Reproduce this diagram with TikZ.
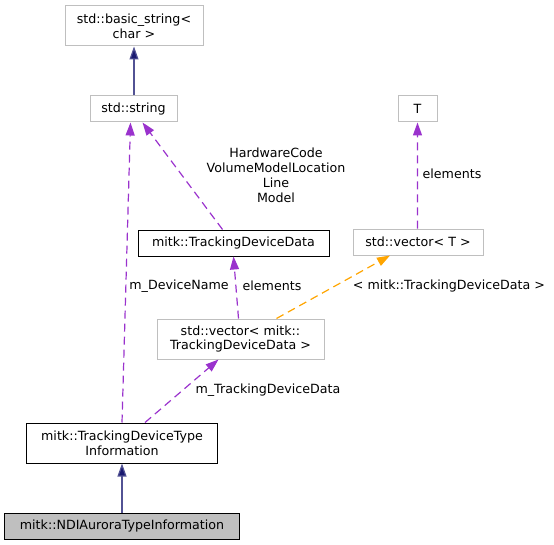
\documentclass[tikz,border=0pt]{standalone}
\usepackage{fontspec}
\setmainfont{DejaVu Sans}
\usetikzlibrary{arrows.meta}
\definecolor{boxgray}{HTML}{BFBFBF}
\definecolor{edgepurple}{HTML}{9A32CD}
\definecolor{edgenavy}{HTML}{191970}
\definecolor{edgeorange}{HTML}{FFA500}
\tikzset{
  every node/.style={font=\fontsize{12.7}{15}\selectfont, inner sep=0pt},
  graybox/.style={draw=boxgray, line width=1bp, fill=white, align=center},
  blackbox/.style={draw=black, line width=1bp, fill=white, align=center},
  curbox/.style={draw=black, line width=1bp, fill=boxgray, align=center},
  inherit/.style={draw=edgenavy!75!white, line width=1.2bp, -{Triangle[length=13bp,width=9bp,fill=edgenavy]}},
  usage/.style={draw=edgepurple, line width=1.2bp, dash pattern=on 8bp off 5bp, -{Triangle[length=13bp,width=9bp,fill=edgepurple]}},
  tmpl/.style={draw=edgeorange, line width=1.2bp, dash pattern=on 8bp off 5bp, -{Triangle[length=13bp,width=9bp,fill=edgeorange]}},
  lbl/.style={align=center, fill=none}
}
\begin{document}
\begin{tikzpicture}[x=1bp,y=-1bp]
\useasboundingbox (0,0) rectangle (554,545);
% nodes
\node[graybox, minimum width=138bp, minimum height=40bp] (bs) at (134,26) {std::basic\_string<\\char >};
\node[graybox, minimum width=87bp, minimum height=26bp] (str) at (133.5,109) {std::string};
\node[graybox, minimum width=39bp, minimum height=26bp] (T) at (417.5,109) {T};
\node[graybox, minimum width=130bp, minimum height=26bp] (vecT) at (418,242) {std::vector< T >};
\node[blackbox, minimum width=191bp, minimum height=26bp] (tdd) at (233.5,243) {mitk::TrackingDeviceData};
\node[graybox, minimum width=167bp, minimum height=40bp] (vectdd) at (240.5,339) {std::vector< mitk::\\TrackingDeviceData >};
\node[blackbox, minimum width=190bp, minimum height=40bp] (tdti) at (122,443) {mitk::TrackingDeviceType\\Information};
\node[curbox, minimum width=234bp, minimum height=26bp] (ndi) at (122,526) {mitk::NDIAuroraTypeInformation};
% edges
\draw[inherit] (str.north -| bs.south) -- (bs.south);
\draw[inherit] (ndi.north) -- (tdti.south);
\draw[usage] ([xshift=0bp]tdti.north) -- ([xshift=-3bp]str.south);
\draw[usage] ([xshift=-11bp]tdd.north) -- ([xshift=9bp]str.south);
\draw[usage] ([xshift=-0.5bp]vecT.north) -- ([xshift=0bp]T.south);
\draw[usage] ([xshift=-2bp]vectdd.north) -- ([xshift=0bp]tdd.south);
\draw[tmpl] ([xshift=36bp]vectdd.north) -- ([xshift=-28bp]vecT.south);
\draw[usage] ([xshift=23bp]tdti.north) -- ([xshift=-22bp]vectdd.south);
% labels
\node[lbl] (l1) at (276,175) {HardwareCode\\VolumeModelLocation\\Line\\Model};
\node[lbl] (l2) at (179,286) {m\_DeviceName};
\node[lbl] (l3) at (452,174) {elements};
\node[lbl] (l4) at (272,286) {elements};
\node[lbl] (l5) at (449,286) {< mitk::TrackingDeviceData >};
\node[lbl] (l6) at (268,390) {m\_TrackingDeviceData};
\end{tikzpicture}
\end{document}
